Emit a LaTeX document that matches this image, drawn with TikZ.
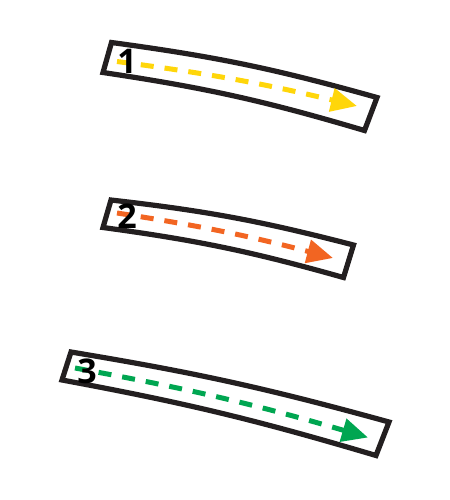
\documentclass[tikz,border=0pt]{standalone}
\usepackage{fontspec}
\setmainfont{Open Sans}
\usetikzlibrary{arrows.meta}

\definecolor{stripblack}{RGB}{35,31,32}
\definecolor{flowyellow}{RGB}{255,214,10}
\definecolor{floworange}{RGB}{242,101,34}
\definecolor{flowgreen}{RGB}{0,166,81}

\begin{document}
\begin{tikzpicture}[
    x=0.5pt, y=0.5pt,
    strip/.style={draw=stripblack, line width=2.6pt, line join=miter, fill=white},
    flow/.style={line width=2.5pt, dash pattern=on 6.5pt off 5.5pt, -{Triangle[length=13pt, width=11.5pt]}},
    num/.style={font=\fontsize{17}{17}\selectfont\bfseries, text=black, inner sep=0pt}
]
\useasboundingbox (0,0) rectangle (450,-500);

% strip 1
\coordinate (a1) at (111.5,-42.5);
\coordinate (b1) at (377,-97.5);
\coordinate (c1) at (364.5,-130.5);
\coordinate (d1) at (103,-72.5);
\draw[strip] (a1) to[bend left=4] (b1) -- (c1) to[bend right=4] (d1) -- cycle;
\coordinate (s1) at (117,-61.5);
\coordinate (t1) at (357,-106);
\draw[flow, flowyellow] (s1) to[bend left=3] (t1);
\node[num] (n1) at (127,-61.5) {1};

% strip 2
\coordinate (a2) at (111,-200);
\coordinate (b2) at (353.5,-245);
\coordinate (c2) at (343.5,-277.5);
\coordinate (d2) at (103,-227.5);
\draw[strip] (a2) to[bend left=4] (b2) -- (c2) to[bend right=4] (d2) -- cycle;
\coordinate (s2) at (117,-213);
\coordinate (t2) at (333,-258);
\draw[flow, floworange] (s2) to[bend left=3] (t2);
\node[num] (n2) at (127,-216) {2};

% strip 3
\coordinate (a3) at (71,-352);
\coordinate (b3) at (389,-422);
\coordinate (c3) at (376,-455.5);
\coordinate (d3) at (62,-380);
\draw[strip] (a3) to[bend left=3] (b3) -- (c3) to[bend right=3] (d3) -- cycle;
\coordinate (s3) at (75,-368);
\coordinate (t3) at (368,-437.5);
\draw[flow, flowgreen] (s3) to[bend left=3] (t3);
\node[num] (n3) at (87,-371) {3};
\end{tikzpicture}
\end{document}
